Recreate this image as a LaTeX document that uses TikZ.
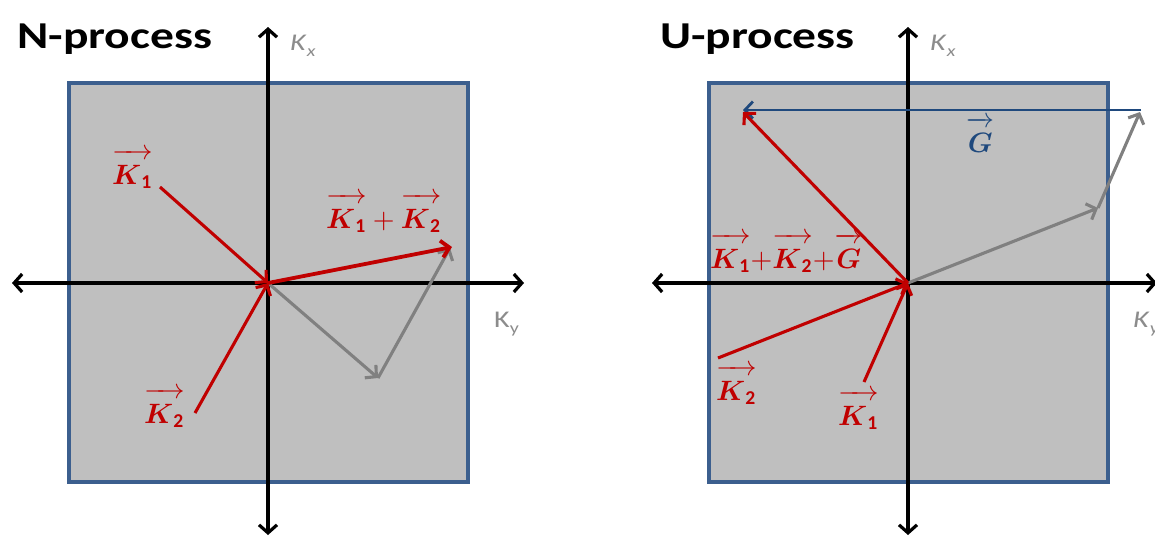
\documentclass[tikz,border=0pt]{standalone}
\usepackage{amsmath}
\usepackage{graphicx}
\usepackage{fontspec}
\setmainfont{Carlito}
\usetikzlibrary{arrows.meta}
\definecolor{boxfill}{HTML}{BFBFBF}
\definecolor{boxline}{HTML}{3C5F8E}
\definecolor{vred}{HTML}{C00000}
\definecolor{vgray}{HTML}{808080}
\definecolor{axgray}{HTML}{8C8C8C}
\definecolor{gblue}{HTML}{1F497D}
\newcommand{\vK}[1]{\overrightarrow{\rule{0pt}{8.6pt}\boldsymbol{K}_{\mathbf{#1}}}}
\newcommand{\vG}{\overrightarrow{\rule{0pt}{8.6pt}\boldsymbol{G}}}
\newcommand{\mlab}[1]{\scalebox{2.8}{$#1$}}
\newcommand{\wide}[1]{\scalebox{1.25}[1]{#1}}
\tikzset{
  zone/.style={fill=boxfill, draw=boxline, line width=3.2pt},
  axis/.style={line width=3.2pt, {Straight Barb[length=8pt,width=18pt]}-{Straight Barb[length=8pt,width=18pt]}},
  redvec/.style={vred, line width=3.1pt, -{Straight Barb[length=8pt,width=17pt]}},
  grayvec/.style={vgray, line width=3.1pt, -{Straight Barb[length=8pt,width=17pt]}},
  bluevec/.style={gblue, line width=2.8pt, -{Straight Barb[length=8pt,width=17pt]}},
  title/.style={font=\fontsize{38}{40}\selectfont\bfseries, inner sep=0pt, anchor=base west},
  axlab/.style={text=axgray, font=\fontsize{24}{26}\selectfont, inner sep=0pt, anchor=base west},
  vlab/.style={text=vred, inner sep=0pt, anchor=base west},
}
\begin{document}
\begin{tikzpicture}[x=1pt,y=-1pt]
\useasboundingbox (0,0) rectangle (1155,536);
% ---------- N-process ----------
\draw[zone] (69,83) rectangle (468,482);
\coordinate (O1) at (268,283);
\coordinate (L1t) at (268,27);
\coordinate (L1b) at (268,535);
\coordinate (L1l) at (12,283);
\coordinate (L1r) at (524,283);
\draw[axis] (L1b) -- (L1t);
\draw[axis] (L1l) -- (L1r);
\coordinate (NK1s) at (160,187);
\coordinate (NK2s) at (195,413);
\coordinate (NS) at (452,247);
\coordinate (NB) at (378,378);
\coordinate (NBt) at (450,248);
\draw[grayvec] (O1) -- (NB);
\draw[grayvec] (NB) -- (NBt);
\draw[redvec] (NK1s) -- (O1);
\draw[redvec] (NK2s) -- (O1);
\draw[redvec, line width=3.8pt] (O1) -- (NS);
\node[title] (tN) at (17,48) {\wide{N-process}};
\node[axlab] (kxN) at (290,50) {\wide{\textit{K}\raisebox{-6pt}{\fontsize{16}{18}\selectfont\textit{x}}}};
\node[axlab] (kyN) at (494,327) {\wide{K\raisebox{-6pt}{\fontsize{16}{18}\selectfont y}}};
\node[vlab] (lNK1) at (112,184) {\mlab{\vK{1}}};
\node[vlab] (lNK2) at (144,423) {\mlab{\vK{2}}};
\node[vlab] (lNS) at (326,228) {\mlab{\vK{1}+\vK{2}}};
% ---------- U-process ----------
\draw[zone] (709,83) rectangle (1108,482);
\coordinate (O2) at (908,283);
\coordinate (L2t) at (908,27);
\coordinate (L2b) at (908,535);
\coordinate (L2l) at (652,283);
\coordinate (L2r) at (1157,283);
\draw[axis] (L2b) -- (L2t);
\draw[axis] (L2l) -- (L2r);
\coordinate (UK1s) at (864,382);
\coordinate (UK2s) at (718,358);
\coordinate (US) at (743,112);
\coordinate (UB) at (1098,208);
\coordinate (UBt) at (1140,112);
\coordinate (UGs) at (1141,110);
\coordinate (UGe) at (743,110);
\draw[grayvec] (O2) -- (UB);
\draw[grayvec] (UB) -- (UBt);
\draw[bluevec] (UGs) -- (UGe);
\draw[redvec] (UK1s) -- (O2);
\draw[redvec] (UK2s) -- (O2);
\draw[redvec] (O2) -- (US);
\node[title] (tU) at (660,48) {\wide{U-process}};
\node[axlab] (kxU) at (930,50) {\wide{\textit{K}\raisebox{-6pt}{\fontsize{16}{18}\selectfont\textit{x}}}};
\node[axlab] (kyU) at (1133,327) {\wide{\textit{K}\raisebox{-6pt}{\fontsize{16}{18}\selectfont\textit{y}}}};
\node[vlab, text=gblue] (lG) at (966,152) {\mlab{\vG}};
\node[vlab] (lUS) at (710,268) {\mlab{\vK{1}{+}\vK{2}{+}\vG}};
\node[vlab] (lUK2) at (716,400) {\mlab{\vK{2}}};
\node[vlab] (lUK1) at (838,425) {\mlab{\vK{1}}};
\end{tikzpicture}
\end{document}
